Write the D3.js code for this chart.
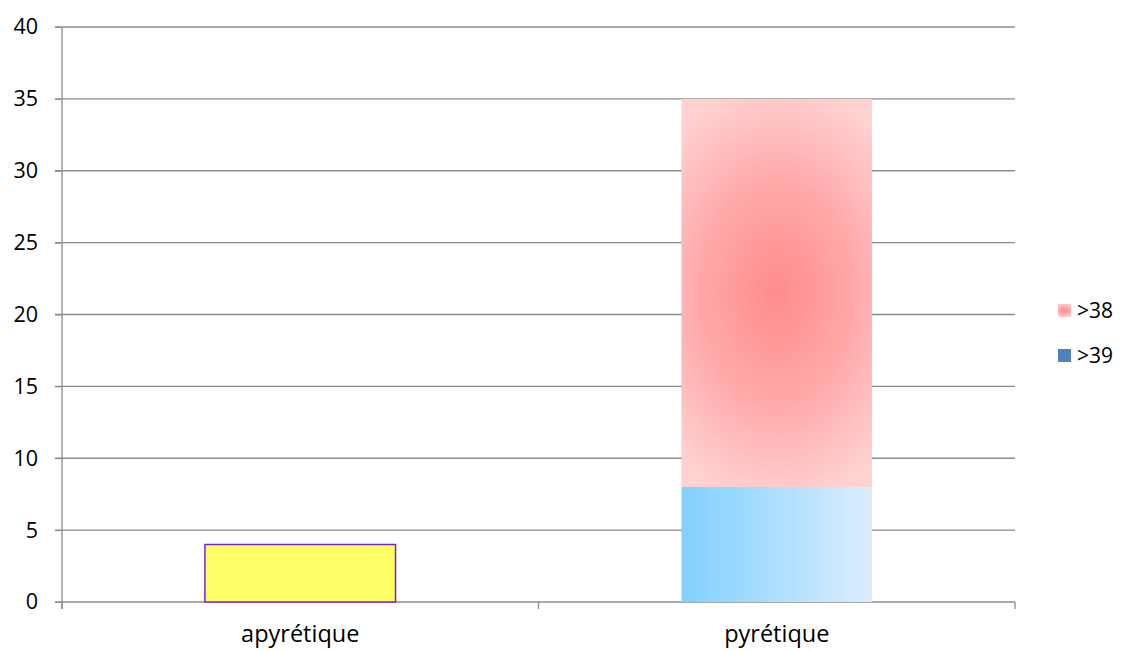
<!DOCTYPE html>
<html>
<head>
<meta charset="utf-8">
<script src="https://cdn.jsdelivr.net/npm/d3@7"></script>
<style>
  body { margin: 0; background: #fff; }
  text { font-family: "Open Sans", "Liberation Sans", sans-serif; fill: #000; }
</style>
</head>
<body>
<div id="chart"></div>
<script>
// Data
const categories = ['apyrétique', 'pyrétique'];
const apyretique = [4, 0];
const above39 = [0, 8];
const above38 = [0, 27];
const yTicks = [0, 5, 10, 15, 20, 25, 30, 35, 40];
const legendLabels = ['>38', '>39'];

const W = 1121, H = 651;
const margin = { top: 27, right: 106, bottom: 49, left: 62 };
const width = W - margin.left - margin.right;
const height = H - margin.top - margin.bottom;

const svg = d3.select('#chart').append('svg')
    .attr('width', W)
    .attr('height', H);

// Gradients
const defs = svg.append('defs');
const blueGrad = defs.append('linearGradient').attr('id', 'blueGrad')
    .attr('x1', '0%').attr('x2', '100%').attr('y1', '0%').attr('y2', '0%');
blueGrad.append('stop').attr('offset', '0%').attr('stop-color', '#80d0ff');
blueGrad.append('stop').attr('offset', '100%').attr('stop-color', '#dcedfd');

const pinkGrad = defs.append('radialGradient').attr('id', 'pinkGrad')
    .attr('cx', '0.5').attr('cy', '0.5').attr('r', '0.5')
    .attr('gradientTransform', 'translate(0.5,0.5) scale(1.6,1.1) translate(-0.5,-0.5)');
pinkGrad.append('stop').attr('offset', '0%').attr('stop-color', '#ff8c8c');
pinkGrad.append('stop').attr('offset', '50%').attr('stop-color', '#ffa8a8');
pinkGrad.append('stop').attr('offset', '100%').attr('stop-color', '#ffd2d2');

const g = svg.append('g')
    .attr('transform', `translate(${margin.left},${margin.top})`);

const x = d3.scaleBand()
    .domain(categories)
    .range([0, width])
    .paddingInner(0.6)
    .paddingOuter(0.3);

const y = d3.scaleLinear()
    .domain([0, 40])
    .range([height, 0]);

// Gridlines
g.append('g')
    .selectAll('line')
    .data(yTicks)
    .join('line')
    .attr('x1', -7)
    .attr('x2', width)
    .attr('y1', d => y(d))
    .attr('y2', d => y(d))
    .attr('stroke', '#8c8c8c')
    .attr('stroke-width', 1.3);

// Y axis
const yAxis = g.append('g')
    .call(d3.axisLeft(y).tickValues(yTicks).tickSize(7).tickPadding(17));
yAxis.select('.domain').remove();
yAxis.selectAll('line').attr('stroke', '#8c8c8c');
yAxis.selectAll('text').style('font-size', '21.5px').attr('fill', '#000');

g.append('line')
    .attr('x1', 0).attr('x2', 0)
    .attr('y1', 0).attr('y2', height + 7)
    .attr('stroke', '#8c8c8c').attr('stroke-width', 1.3);

// X axis
const xAxis = g.append('g')
    .attr('transform', `translate(0,${height})`)
    .call(d3.axisBottom(x).tickSize(0).tickPadding(23));
xAxis.select('.domain').remove();
xAxis.selectAll('text').style('font-size', '23.5px').attr('fill', '#000');

// category boundary ticks
g.append('g')
    .selectAll('line')
    .data(d3.range(categories.length + 1))
    .join('line')
    .attr('x1', i => i * width / categories.length)
    .attr('x2', i => i * width / categories.length)
    .attr('y1', height)
    .attr('y2', height + 7)
    .attr('stroke', '#8c8c8c')
    .attr('stroke-width', 1.3);

// Bars
g.append('g')
    .selectAll('rect')
    .data(categories.map((c, i) => ({ c, v: apyretique[i] })).filter(d => d.v > 0))
    .join('rect')
    .attr('x', d => x(d.c))
    .attr('y', d => y(d.v))
    .attr('width', x.bandwidth())
    .attr('height', d => y(0) - y(d.v))
    .attr('fill', '#ffff66')
    .attr('stroke', '#7a1fd6')
    .attr('stroke-width', 1.5);

g.append('g')
    .selectAll('rect')
    .data(categories.map((c, i) => ({ c, v: above39[i] })).filter(d => d.v > 0))
    .join('rect')
    .attr('x', d => x(d.c))
    .attr('y', d => y(d.v))
    .attr('width', x.bandwidth())
    .attr('height', d => y(0) - y(d.v))
    .attr('fill', 'url(#blueGrad)');

g.append('g')
    .selectAll('rect')
    .data(categories.map((c, i) => ({ c, v0: above39[i], v: above38[i] })).filter(d => d.v > 0))
    .join('rect')
    .attr('x', d => x(d.c))
    .attr('y', d => y(d.v0 + d.v))
    .attr('width', x.bandwidth())
    .attr('height', d => y(d.v0) - y(d.v0 + d.v))
    .attr('fill', 'url(#pinkGrad)');

// Legend
const legendFills = ['url(#pinkGrad)', '#4f81bd'];
const legend = svg.append('g')
    .attr('transform', 'translate(1058, 304)');

legendLabels.forEach((label, i) => {
    const item = legend.append('g')
        .attr('transform', `translate(0, ${i * 45})`);
    item.append('rect')
        .attr('width', 13)
        .attr('height', 13)
        .attr('fill', legendFills[i]);
    item.append('text')
        .attr('x', 19)
        .attr('y', 7)
        .attr('dy', '0.35em')
        .style('font-size', '21px')
        .text(label);
});
</script>
</body>
</html>
